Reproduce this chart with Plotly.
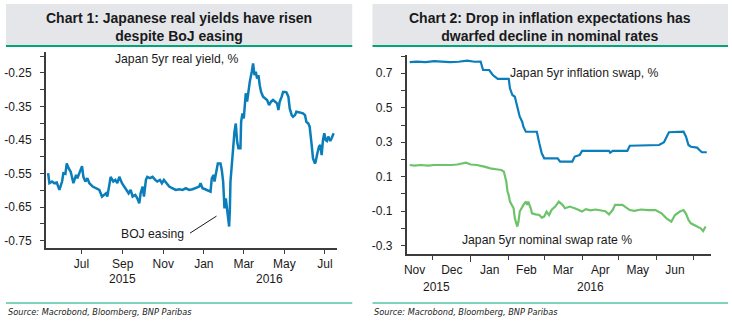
import plotly.graph_objects as go

# ---------------- data ----------------
# Chart 1: Japan 5yr real yield, %
real_dates = [
    "2015-05-12", "2015-05-14", "2015-05-18", "2015-05-21", "2015-05-25", "2015-05-29",
    "2015-06-02", "2015-06-04", "2015-06-07", "2015-06-09", "2015-06-12", "2015-06-15",
    "2015-06-19", "2015-06-23", "2015-06-25", "2015-06-28", "2015-07-02", "2015-07-04",
    "2015-07-07", "2015-07-10", "2015-07-13", "2015-07-18", "2015-07-23", "2015-07-28",
    "2015-08-01", "2015-08-04", "2015-08-07", "2015-08-09", "2015-08-12", "2015-08-14",
    "2015-08-18", "2015-08-21", "2015-08-24", "2015-08-27", "2015-08-31", "2015-09-03",
    "2015-09-06", "2015-09-10", "2015-09-13", "2015-09-16", "2015-09-20", "2015-09-23",
    "2015-09-26", "2015-09-28", "2015-10-01", "2015-10-03", "2015-10-06", "2015-10-08",
    "2015-10-12", "2015-10-16", "2015-10-20", "2015-10-23", "2015-10-27", "2015-10-30",
    "2015-11-02", "2015-11-06", "2015-11-10", "2015-11-15", "2015-11-20", "2015-11-25",
    "2015-11-30", "2015-12-05", "2015-12-10", "2015-12-15", "2015-12-20", "2015-12-25",
    "2015-12-27", "2015-12-30", "2016-01-03", "2016-01-06", "2016-01-11", "2016-01-13",
    "2016-01-16", "2016-01-17", "2016-01-20", "2016-01-22", "2016-01-26", "2016-01-28",
    "2016-01-30", "2016-02-01", "2016-02-03", "2016-02-05", "2016-02-08", "2016-02-09",
    "2016-02-10", "2016-02-12", "2016-02-14", "2016-02-16", "2016-02-18", "2016-02-20",
    "2016-02-22", "2016-02-25", "2016-02-26", "2016-02-28", "2016-03-01", "2016-03-03",
    "2016-03-04", "2016-03-06", "2016-03-08", "2016-03-10", "2016-03-13", "2016-03-15",
    "2016-03-17", "2016-03-19", "2016-03-21", "2016-03-23", "2016-03-25", "2016-03-27",
    "2016-03-30", "2016-04-02", "2016-04-05", "2016-04-08", "2016-04-11", "2016-04-14",
    "2016-04-17", "2016-04-20", "2016-04-22", "2016-04-24", "2016-04-27", "2016-04-29",
    "2016-05-02", "2016-05-04", "2016-05-07", "2016-05-09", "2016-05-12", "2016-05-14",
    "2016-05-17", "2016-05-19", "2016-05-24", "2016-05-29", "2016-06-01", "2016-06-03",
    "2016-06-06", "2016-06-08", "2016-06-11", "2016-06-13", "2016-06-16", "2016-06-17",
    "2016-06-19", "2016-06-22", "2016-06-24", "2016-06-26", "2016-06-28", "2016-06-30",
    "2016-07-02", "2016-07-04", "2016-07-06", "2016-07-09", "2016-07-11", "2016-07-14",
]
real_yield = [
    -0.549, -0.579, -0.574, -0.579, -0.577, -0.599,
    -0.574, -0.549, -0.551, -0.520, -0.535, -0.545,
    -0.579, -0.554, -0.564, -0.549, -0.528, -0.560,
    -0.574, -0.564, -0.579, -0.589, -0.594, -0.599,
    -0.619, -0.614, -0.609, -0.619, -0.589, -0.560,
    -0.574, -0.569, -0.579, -0.560, -0.579, -0.589,
    -0.599, -0.609, -0.599, -0.619, -0.614, -0.624,
    -0.639, -0.609, -0.589, -0.619, -0.569, -0.560,
    -0.564, -0.560, -0.569, -0.574, -0.569, -0.579,
    -0.569, -0.579, -0.589, -0.594, -0.599, -0.597,
    -0.599, -0.594, -0.599, -0.597, -0.594, -0.589,
    -0.579, -0.594, -0.597, -0.599, -0.604, -0.564,
    -0.554, -0.574, -0.535, -0.520, -0.520, -0.540,
    -0.574, -0.654, -0.624, -0.664, -0.708, -0.664,
    -0.574, -0.525, -0.460, -0.426, -0.401, -0.455,
    -0.475, -0.475, -0.396, -0.371, -0.386, -0.326,
    -0.311, -0.336, -0.301, -0.277, -0.247, -0.222,
    -0.257, -0.247, -0.267, -0.257, -0.287, -0.307,
    -0.321, -0.326, -0.331, -0.346, -0.336, -0.331,
    -0.336, -0.341, -0.361, -0.336, -0.321, -0.307,
    -0.307, -0.308, -0.321, -0.356, -0.376, -0.381,
    -0.376, -0.366, -0.368, -0.371, -0.376, -0.396,
    -0.401, -0.411, -0.465, -0.505, -0.520, -0.515,
    -0.495, -0.470, -0.465, -0.495, -0.450, -0.430,
    -0.450, -0.453, -0.440, -0.453, -0.445, -0.430,
]

# Chart 2: Japan 5yr inflation swap, %
infl_dates = [
    "2015-11-12", "2015-11-18", "2015-11-25", "2015-12-02", "2015-12-08", "2015-12-15",
    "2015-12-22", "2015-12-29", "2016-01-04", "2016-01-09", "2016-01-11", "2016-01-16",
    "2016-01-19", "2016-01-23", "2016-02-01", "2016-02-02", "2016-02-04", "2016-02-06",
    "2016-02-08", "2016-02-10", "2016-02-12", "2016-02-13", "2016-02-15", "2016-02-24",
    "2016-02-26", "2016-02-28", "2016-03-01", "2016-03-12", "2016-03-14", "2016-03-24",
    "2016-03-26", "2016-03-30", "2016-04-01", "2016-04-23", "2016-04-24", "2016-04-26",
    "2016-05-08", "2016-05-10", "2016-06-03", "2016-06-05", "2016-06-07", "2016-06-11",
    "2016-06-23", "2016-06-25", "2016-06-27", "2016-06-29", "2016-07-04", "2016-07-06",
    "2016-07-08", "2016-07-12",
]
infl_swap = [
    0.765, 0.768, 0.765, 0.770, 0.768, 0.765,
    0.767, 0.773, 0.767, 0.768, 0.719, 0.719,
    0.690, 0.667, 0.667, 0.613, 0.574, 0.564,
    0.506, 0.448, 0.419, 0.390, 0.361, 0.361,
    0.294, 0.236, 0.207, 0.207, 0.188, 0.188,
    0.217, 0.226, 0.250, 0.250, 0.240, 0.250,
    0.250, 0.280, 0.284, 0.294, 0.300, 0.358,
    0.361, 0.332, 0.284, 0.274, 0.269, 0.255,
    0.242, 0.242,
]

# Chart 2: Japan 5yr nominal swap rate %
nom_dates = [
    "2015-11-12", "2015-11-16", "2015-11-21", "2015-11-27", "2015-12-02", "2015-12-08",
    "2015-12-13", "2015-12-16", "2015-12-21", "2015-12-25", "2015-12-28", "2016-01-01",
    "2016-01-06", "2016-01-12", "2016-01-17", "2016-01-23", "2016-01-26", "2016-01-28",
    "2016-01-30", "2016-01-31", "2016-02-01", "2016-02-02", "2016-02-05", "2016-02-06",
    "2016-02-08", "2016-02-09", "2016-02-10", "2016-02-13", "2016-02-15", "2016-02-16",
    "2016-02-17", "2016-02-19", "2016-02-20", "2016-02-23", "2016-02-26", "2016-02-28",
    "2016-03-01", "2016-03-03", "2016-03-05", "2016-03-07", "2016-03-10", "2016-03-13",
    "2016-03-16", "2016-03-18", "2016-03-22", "2016-03-27", "2016-04-01", "2016-04-04",
    "2016-04-08", "2016-04-12", "2016-04-16", "2016-04-20", "2016-04-23", "2016-04-26",
    "2016-04-28", "2016-05-04", "2016-05-06", "2016-05-10", "2016-05-14", "2016-05-19",
    "2016-05-25", "2016-05-31", "2016-06-05", "2016-06-09", "2016-06-13", "2016-06-16",
    "2016-06-20", "2016-06-23", "2016-06-25", "2016-06-27", "2016-06-29", "2016-07-02",
    "2016-07-04", "2016-07-07", "2016-07-09", "2016-07-11",
]
nom_swap = [
    0.168, 0.165, 0.168, 0.165, 0.168, 0.168,
    0.165, 0.168, 0.171, 0.178, 0.182, 0.171,
    0.168, 0.159, 0.149, 0.142, 0.139, 0.130,
    0.072, 0.014, -0.006, -0.044, -0.083, -0.141,
    -0.189, -0.160, -0.102, -0.063, -0.044, -0.063,
    -0.044, -0.083, -0.112, -0.118, -0.122, -0.137,
    -0.131, -0.102, -0.122, -0.093, -0.073, -0.044,
    -0.063, -0.083, -0.073, -0.085, -0.102, -0.088,
    -0.095, -0.090, -0.095, -0.100, -0.118, -0.093,
    -0.063, -0.063, -0.073, -0.093, -0.098, -0.090,
    -0.093, -0.093, -0.112, -0.141, -0.160, -0.122,
    -0.102, -0.093, -0.115, -0.150, -0.170, -0.179,
    -0.189, -0.199, -0.215, -0.189,
]

# axis tick labels
yticks_1 = [-0.75, -0.65, -0.55, -0.45, -0.35, -0.25]
yticks_2 = [-0.3, -0.1, 0.1, 0.3, 0.5, 0.7]

# ---------------- styling ----------------
W, H = 732, 324
FONT = "Liberation Sans, Arial, sans-serif"
SRC_FONT = "DejaVu Sans Condensed, Liberation Sans, Arial, sans-serif"
TXT = "#1a1a1a"
AXC = "#3c3c3c"
BLUE = "#0a7dbb"
GREEN = "#6cc36a"
TEAL = "#00a67a"
GREY_BOX = "#e4e6ea"


def px(x):
    return x / W


def py(y):
    return (H - y) / H


fig = go.Figure()
fig.add_trace(go.Scatter(x=real_dates, y=real_yield, mode="lines",
                         line=dict(color=BLUE, width=2.5), xaxis="x", yaxis="y",
                         showlegend=False, hoverinfo="skip"))
fig.add_trace(go.Scatter(x=infl_dates, y=infl_swap, mode="lines",
                         line=dict(color=BLUE, width=2.2), xaxis="x2", yaxis="y2",
                         showlegend=False, hoverinfo="skip"))
fig.add_trace(go.Scatter(x=nom_dates, y=nom_swap, mode="lines",
                         line=dict(color=GREEN, width=2.2), xaxis="x2", yaxis="y2",
                         showlegend=False, hoverinfo="skip"))
# carrier for the year-boundary tick axis
fig.add_trace(go.Scatter(x=[], y=[], xaxis="x3", yaxis="y2", showlegend=False))

axis_common = dict(showgrid=False, zeroline=False, showline=True, linecolor=AXC,
                   linewidth=1.5, ticks="outside", tickcolor=AXC, tickwidth=1.2,
                   tickfont=dict(family=FONT, size=12, color=TXT))

fig.update_layout(
    width=W, height=H, autosize=False,
    margin=dict(l=0, r=0, t=0, b=0),
    paper_bgcolor="white", plot_bgcolor="white",
    font=dict(family=FONT, color=TXT),
    xaxis=dict(**axis_common, domain=[px(43), px(335)], anchor="y",
               type="date", range=["2015-05-08 14:00", "2016-07-18 12:00"],
               tick0="2015-07-01", dtick="M2", tickformat="%b", ticklen=4),
    yaxis=dict(**axis_common, domain=[py(248), py(52)], anchor="x",
               range=[-0.772, -0.188], tickvals=yticks_1,
               ticktext=[f"{v:.2f}" for v in yticks_1], ticklen=4,
               ticklabelstandoff=6,
               minor=dict(tick0=-0.25, dtick=0.05, ticks="outside", ticklen=4,
                          tickcolor=AXC, tickwidth=1.2)),
    xaxis2=dict(**axis_common, domain=[px(405.3), px(711)], anchor="y2",
                type="date", range=["2015-11-09 12:00", "2016-07-15 12:00"],
                tick0="2015-12-01", dtick="M1", tickformat="%b",
                ticklabelmode="period", ticklen=4),
    xaxis3=dict(overlaying="x2", anchor="y2", type="date",
                range=["2015-11-09 12:00", "2016-07-15 12:00"],
                tickvals=["2016-01-01"], ticks="outside", ticklen=7,
                tickcolor=AXC, tickwidth=1.2, showticklabels=False,
                showline=False, showgrid=False, zeroline=False),
    yaxis2=dict(**axis_common, domain=[py(254), py(55)], anchor="x2",
                range=[-0.348, 0.806], tickvals=yticks_2,
                ticktext=[f"{v:.1f}" for v in yticks_2], ticklen=4,
                ticklabelstandoff=6,
                minor=dict(tick0=-0.3, dtick=0.1, ticks="outside", ticklen=4,
                           tickcolor=AXC, tickwidth=1.2)),
)

shapes = []
# title panels with green rule underneath, and the rule above each source line
for x0, x1 in [(3, 350.7), (371, 728)]:
    shapes.append(dict(type="rect", xref="paper", yref="paper",
                       x0=px(x0), x1=px(x1), y0=py(45), y1=py(4),
                       fillcolor=GREY_BOX, line=dict(width=0), layer="below"))
    shapes.append(dict(type="line", xref="paper", yref="paper",
                       x0=px(x0), x1=px(x1), y0=py(46), y1=py(46),
                       line=dict(color=TEAL, width=2)))
    shapes.append(dict(type="line", xref="paper", yref="paper",
                       x0=px(x0), x1=px(x1), y0=py(303), y1=py(303),
                       line=dict(color=TEAL, width=1)))
fig.update_layout(shapes=shapes)

ann = []
ann.append(dict(text="<b>Chart 1: Japanese real yields have risen<br>despite BoJ easing</b>",
                xref="paper", yref="paper", x=px(176.8), y=py(26.5),
                xanchor="center", yanchor="middle", showarrow=False,
                font=dict(family=FONT, size=14, color=TXT)))
ann.append(dict(text="<b>Chart 2: Drop in inflation expectations has<br>dwarfed decline in nominal rates</b>",
                xref="paper", yref="paper", x=px(549.5), y=py(26.5),
                xanchor="center", yanchor="middle", showarrow=False,
                font=dict(family=FONT, size=14, color=TXT)))
# series labels
ann.append(dict(text="Japan 5yr real yield, %", xref="paper", yref="paper",
                x=px(174.5), y=py(59), xanchor="center", yanchor="middle",
                showarrow=False, font=dict(family=FONT, size=12.2, color=TXT)))
ann.append(dict(text="Japan 5yr inflation swap, %", xref="paper", yref="paper",
                x=px(584), y=py(72.7), xanchor="center", yanchor="middle",
                showarrow=False, font=dict(family=FONT, size=12.2, color=TXT)))
ann.append(dict(text="Japan 5yr nominal swap rate %", xref="paper", yref="paper",
                x=px(546), y=py(240), xanchor="center", yanchor="middle",
                showarrow=False, font=dict(family=FONT, size=12.2, color=TXT)))
# BOJ easing callout
ann.append(dict(text="BOJ easing", xref="paper", yref="paper",
                x=px(150), y=py(234), xanchor="center", yanchor="middle",
                showarrow=False, font=dict(family=FONT, size=12.2, color=TXT)))
ann.append(dict(text="", xref="x", yref="y", x="2016-01-20", y=-0.677,
                ax=-28, ay=18, showarrow=True, arrowhead=0, arrowwidth=1,
                arrowcolor=TXT, standoff=0, startstandoff=0))
# year labels
for xr, xv, yv, t in [("x", "2015-09-01", 279, "2015"), ("x", "2016-04-08", 279, "2016"),
                      ("x2", "2015-12-04", 286.7, "2015"), ("x2", "2016-04-08", 286.7, "2016")]:
    ann.append(dict(text=t, xref=xr, yref="paper", x=xv, y=py(yv),
                    xanchor="center", yanchor="middle", showarrow=False,
                    font=dict(family=FONT, size=12, color=TXT)))
# sources
for x0 in [3, 371]:
    ann.append(dict(text="<i>Source: Macrobond, Bloomberg, BNP Paribas</i>",
                    xref="paper", yref="paper", x=px(x0), y=py(311.7),
                    xanchor="left", yanchor="middle", showarrow=False,
                    font=dict(family=SRC_FONT, size=9.1, color=TXT)))
fig.update_layout(annotations=ann)

fig.write_html("out.html")
